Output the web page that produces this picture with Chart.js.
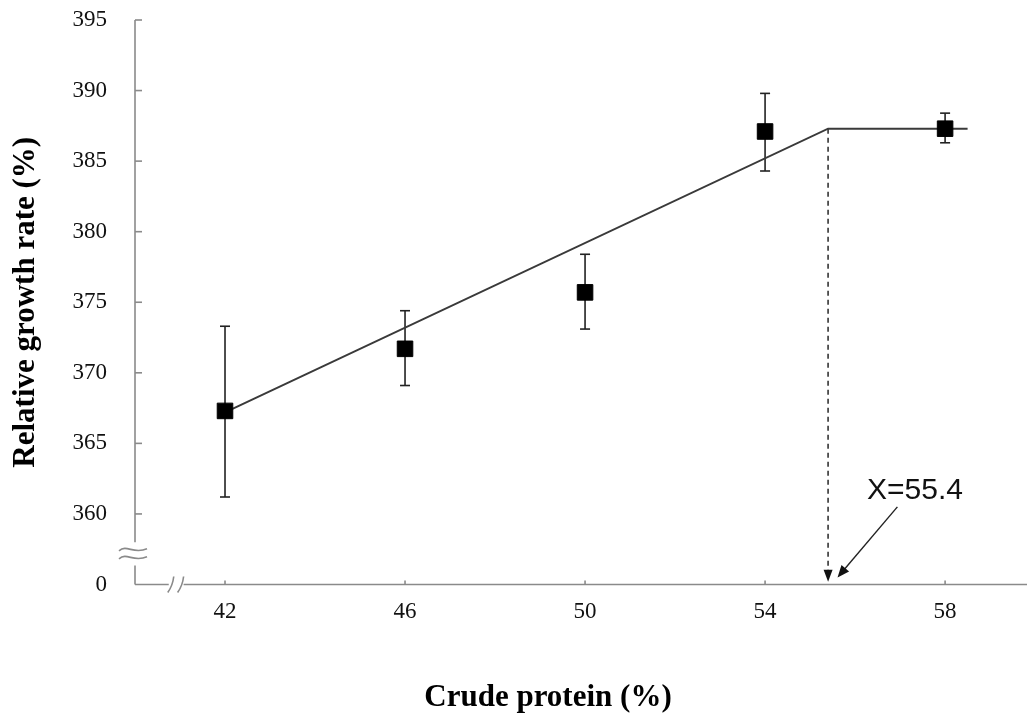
<!DOCTYPE html>
<html>
<head>
<meta charset="utf-8">
<script src="https://cdn.jsdelivr.net/npm/chart.js@4.4.0/dist/chart.umd.min.js"></script>
<style>
  html, body { margin: 0; padding: 0; background: #fff; }
  #wrap { width: 1029px; height: 718px; }
</style>
</head>
<body>
<div id="wrap"><canvas id="chart" width="1029" height="718"></canvas></div>
<script>
// ---- data ----
const crudeProtein = [42, 46, 50, 54, 58];
const growthRate   = [367.3, 371.7, 375.7, 387.1, 387.3];
const errLow       = [361.2, 369.1, 373.1, 384.3, 386.3];
const errHigh      = [373.3, 374.4, 378.4, 389.8, 388.4];

// broken-line regression (plateau starts at X = 55.4)
const fitX = [42, 55.4, 58.5];
const fitY = [367.2, 387.3, 387.3];
const breakX = 55.4;

const xTicks = [42, 46, 50, 54, 58];
const yTicks = [355, 360, 365, 370, 375, 380, 385, 390, 395]; // 355 shown as "0" (broken axis)

const serif = "'Liberation Serif', 'Times New Roman', serif";
const axisGrey = '#8a8a8a';

function seg(ctx, x1, y1, x2, y2) {
  ctx.beginPath();
  ctx.moveTo(x1, y1);
  ctx.lineTo(x2, y2);
  ctx.stroke();
}

function arrowHead(ctx, fromX, fromY, tipX, tipY, len, half) {
  const ang = Math.atan2(tipY - fromY, tipX - fromX);
  const bx = tipX - len * Math.cos(ang), by = tipY - len * Math.sin(ang);
  const nx = -Math.sin(ang) * half, ny = Math.cos(ang) * half;
  ctx.beginPath();
  ctx.moveTo(tipX, tipY);
  ctx.lineTo(bx + nx, by + ny);
  ctx.lineTo(bx - nx, by - ny);
  ctx.closePath();
  ctx.fill();
}

const decorPlugin = {
  id: 'decor',
  beforeDatasetsDraw(chart) {
    const { ctx, chartArea: a, scales: { x, y } } = chart;
    ctx.save();

    // axes with breaks
    ctx.strokeStyle = axisGrey;
    ctx.lineWidth = 1.6;
    const x0 = a.left, y0 = a.bottom;
    const yGapTop = y.getPixelForValue(358.0);
    const yGapBot = y.getPixelForValue(356.35);
    seg(ctx, x0, a.top, x0, yGapTop);
    seg(ctx, x0, yGapBot, x0, y0);
    yTicks.forEach(v => {
      if (v === 355) return;
      const py = y.getPixelForValue(v);
      seg(ctx, x0, py, x0 + 7, py);
    });
    // "≈" mark on the y axis
    const mid = (yGapTop + yGapBot) / 2;
    [-4, 4].forEach(dy => {
      const cy = mid + dy;
      ctx.beginPath();
      ctx.moveTo(x0 - 16, cy + 1);
      ctx.bezierCurveTo(x0 - 8, cy - 6, x0 - 2, cy + 5, x0 + 12, cy - 1);
      ctx.stroke();
    });

    const xGapL = x.getPixelForValue(40.75);
    const xGapR = x.getPixelForValue(41.08);
    seg(ctx, x0, y0, xGapL, y0);
    seg(ctx, xGapR, y0, a.right, y0);
    xTicks.forEach(v => {
      const px = x.getPixelForValue(v);
      seg(ctx, px, y0, px, y0 - 4);
    });
    // "//" mark on the x axis
    [xGapL + 1, xGapR - 4].forEach(sx => {
      ctx.beginPath();
      ctx.moveTo(sx - 2, y0 + 8);
      ctx.quadraticCurveTo(sx + 3, y0 + 1, sx + 4, y0 - 8);
      ctx.stroke();
    });

    // error bars
    ctx.strokeStyle = '#222';
    ctx.lineWidth = 1.6;
    crudeProtein.forEach((cp, i) => {
      const px = x.getPixelForValue(cp);
      const top = y.getPixelForValue(errHigh[i]);
      const bot = y.getPixelForValue(errLow[i]);
      seg(ctx, px, top, px, bot);
      seg(ctx, px - 5, top, px + 5, top);
      seg(ctx, px - 5, bot, px + 5, bot);
    });
    ctx.restore();
  },
  afterDatasetsDraw(chart) {
    const { ctx, scales: { x, y } } = chart;
    ctx.save();
    ctx.fillStyle = '#111';
    ctx.strokeStyle = '#222';

    // arrow head of the dashed drop line
    const bx = x.getPixelForValue(breakX);
    arrowHead(ctx, bx, y.getPixelForValue(360), bx, y.getPixelForValue(355.2), 12, 4.5);

    // pointer to the breakpoint
    const sx = x.getPixelForValue(56.94), sy = y.getPixelForValue(360.5);
    const tx = x.getPixelForValue(55.61), ty = y.getPixelForValue(355.5);
    const ang = Math.atan2(ty - sy, tx - sx);
    ctx.lineWidth = 1.4;
    seg(ctx, sx, sy, tx - 10 * Math.cos(ang), ty - 10 * Math.sin(ang));
    arrowHead(ctx, sx, sy, tx, ty, 12, 5);

    ctx.font = "30px 'Liberation Sans', Arial, sans-serif";
    ctx.textAlign = 'center';
    ctx.textBaseline = 'middle';
    ctx.fillText('X=' + breakX, x.getPixelForValue(57.33), y.getPixelForValue(361.65));

    // x axis title
    ctx.fillStyle = '#000';
    ctx.font = 'bold 31px ' + serif;
    ctx.textBaseline = 'alphabetic';
    ctx.fillText('Crude protein (%)', 548, 706);
    ctx.restore();
  }
};

const ctx = document.getElementById('chart').getContext('2d');
new Chart(ctx, {
  type: 'scatter',
  data: {
    datasets: [
      {
        label: 'Mean',
        data: crudeProtein.map((cp, i) => ({ x: cp, y: growthRate[i] })),
        pointStyle: 'rect',
        pointRadius: 11,
        pointBackgroundColor: '#000',
        pointBorderColor: '#000',
        pointBorderWidth: 1,
        showLine: false
      },
      {
        label: 'Broken-line fit',
        data: fitX.map((v, i) => ({ x: v, y: fitY[i] })),
        showLine: true,
        borderColor: '#3a3a3a',
        borderWidth: 2,
        pointRadius: 0,
        tension: 0
      },
      {
        label: 'Breakpoint',
        data: [{ x: breakX, y: fitY[1] }, { x: breakX, y: 355.9 }],
        showLine: true,
        borderColor: '#333',
        borderWidth: 1.6,
        borderDash: [5, 4],
        pointRadius: 0
      }
    ]
  },
  options: {
    responsive: false,
    animation: false,
    layout: { autoPadding: false, padding: { top: 20, right: 2, left: 0, bottom: 0 } },
    plugins: {
      legend: { display: false },
      tooltip: { enabled: false }
    },
    scales: {
      x: {
        type: 'linear',
        min: 40,
        max: 59.82,
        afterBuildTicks: s => { s.ticks = xTicks.map(v => ({ value: v })); },
        afterFit: s => { s.height = 133.5; s.paddingLeft = 0; s.paddingRight = 0; },
        grid: { display: false, drawTicks: false },
        border: { display: false },
        ticks: {
          font: { family: serif, size: 23 },
          color: '#111',
          padding: 14,
          maxRotation: 0,
          autoSkip: false
        }
      },
      y: {
        min: 355,
        max: 395,
        afterBuildTicks: s => { s.ticks = yTicks.map(v => ({ value: v })); },
        afterFit: s => { s.width = 135; s.paddingTop = 0; s.paddingBottom = 0; },
        grid: { display: false, drawTicks: false },
        border: { display: false },
        ticks: {
          font: { family: serif, size: 23 },
          color: '#111',
          padding: 28,
          callback: v => (v === 355 ? '0' : v)
        },
        title: {
          display: true,
          text: 'Relative growth rate (%)',
          font: { family: serif, size: 31, weight: 'bold' },
          color: '#000',
          padding: { top: 7, bottom: 0 }
        }
      }
    }
  },
  plugins: [decorPlugin]
});
</script>
</body>
</html>
